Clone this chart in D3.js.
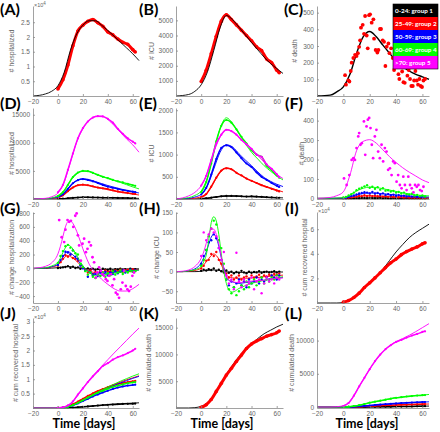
<!DOCTYPE html>
<html><head><meta charset="utf-8">
<script src="https://cdn.jsdelivr.net/npm/d3@7"></script>
<style>body{margin:0;background:#fff}svg{display:block}</style>
</head><body><svg id="c" width="440" height="432"></svg>
<script>
// ---------- time grids ----------
const tM = [-20,-10,-5,0,5,10,15,20,25,30,35,40,45,50,55,60,65];
const tD = [0,4,8,12,16,20,24,28,32,36,40,44,48,52,56,60,62];
const tF = [-20,-15,-10,-5,0,2,4,6,8,10,12,14,16,18,20,22,25,30,35,40,45,50,55,60,65];
const t2 = [0,2,4,6,8,10,12,14,16,18,20,22,24,26,28,30,32,34,36,38,40,42,44,46,48,50,52,54,56,58,60,62];
const xTicks = [-20,0,20,40,60];
const groupNames = ["0-24: group 1","25-49: group 2","50-59: group 3","60-69: group 4",">70: group 5"];
const panelLetters = ["(A)","(B)","(C)","(D)","(E)","(F)","(G)","(H)","(I)","(J)","(K)","(L)"];
const yLabels = ["# hospitalized","# ICU","# death","# hospitalized","# ICU","# death","# change hospitalization","# change ICU","# cum recovered hospital","# cum recovered hospital","# cumulated death","# cumulated death"];
const xLabel = "Time [days]";

// ---------- A ----------
const aModel = [0,700,1600,3500,8000,15500,21000,24000,25500,25500,24000,22200,20300,18300,16300,14300,12000];
const aData  = [2400,5500,10500,17000,22000,24000,25300,25900,24800,23600,21700,20700,19300,18200,17500,15700,14900];
const aTicks = [5000,10000,15000,20000,25000];
// ---------- B ----------
const bModel = [0,100,310,740,1600,3000,4500,5320,5040,4550,4050,3540,3050,2570,2150,1820,1490];
const bData  = [960,1700,2800,3950,4950,5370,5050,4700,4350,4000,3650,3250,3000,2450,2200,1710,1540];
const bTicks = [1000,2000,3000,4000,5000];
// ---------- C ----------
const cModel = [0,5,25,55,130,255,355,387,355,305,257,210,178,150,130,115,100];
const cDays = [1.3,2,3.8,4.6,5.6,6.3,7.6,8.9,10,11,12,12.7,13.4,14.7,15.7,16.5,17.7,18.5,19.5,20.3,21.5,22.8,23.3,24.5,25.8,26.6,27.8,28.6,29.9,30.9,31.9,32.9,34.2,35,36.2,37.5,38.5,39.5,40.5,41.8,42.5,43.5,44.6,45.6,46.6,47.6,48.6,49.6,50.6,51.6,52.7,53.7,54.7,55.7,56.7,57.7,58.7,59.7,60.8,62];
const cVals = [125,68,93,87,150,200,228,247,240,257,295,334,410,427,373,480,363,286,485,490,440,460,344,276,261,276,402,402,334,325,180,296,315,257,286,228,156,203,267,131,102,190,147,83,79,190,122,156,102,60,60,93,150,93,68,102,60,54,93,102];
const cTicks = [100,200,300,400,500];
// ---------- D ----------
const dM5 = [0,120,400,1070,2980,6550,10100,12500,14000,14700,14760,14160,13100,11900,10700,9640,8330];
const dD5 = [1190,2500,5200,8100,10800,12600,13800,14500,14750,14700,14280,13600,12500,11600,10800,10200,9900];
const dM4 = [0,50,200,600,1500,3270,4460,5000,4900,4460,4050,3690,3300,2950,2550,2150,1800];
const dD4 = [500,1200,2500,3900,4700,5000,4950,4650,4300,3950,3700,3400,3150,2950,2700,2450,2350];
const dM3 = [0,30,150,420,1070,2380,3270,3570,3450,3090,2750,2400,2100,1800,1550,1310,1070];
const dD3 = [350,850,1800,2800,3350,3550,3400,3150,2850,2500,2200,2000,1800,1600,1450,1300,1250];
const dM2 = [0,20,100,300,830,1790,2380,2560,2380,2080,1870,1670,1430,1190,1040,890,710];
const dD2 = [250,650,1400,2050,2450,2550,2450,2250,2050,1900,1750,1550,1350,1200,1050,950,900];
const dM1 = [0,2,10,30,80,170,250,290,290,270,250,230,200,180,150,130,110];
const dD1 = [30,60,130,200,260,290,290,280,260,240,230,220,200,180,160,140,130];
const dTicks = [5000,10000,15000];
// ---------- E ----------
const eM5 = [0,70,150,300,600,1050,1390,1560,1520,1390,1260,1130,980,830,690,560,460];
const eD5 = [300,520,880,1250,1450,1560,1530,1450,1330,1230,1130,1000,950,780,680,560,490];
const eM4 = [0,30,80,180,485,1050,1580,1830,1700,1470,1250,1050,900,750,630,520,430];
const eD4 = [150,380,800,1300,1650,1780,1720,1570,1400,1250,1100,1000,950,750,650,530,480];
const eM3 = [0,15,45,106,300,675,1050,1220,1170,1020,880,750,610,485,400,333,280];
const eD3 = [100,250,550,900,1150,1210,1170,1050,920,800,720,600,500,430,360,300,270];
const eM2 = [0,5,20,50,144,370,600,700,660,560,480,410,350,300,250,205,160];
const eD2 = [40,110,280,480,640,690,670,590,530,460,410,360,310,270,230,190,170];
const eM1 = [0,1,3,8,20,40,60,70,68,62,55,50,45,40,35,30,25];
const eD1 = [8,15,30,45,60,70,70,65,60,55,60,55,50,40,35,30,28];
const eTicks = [500,1000,1500,2000];
// ---------- F ----------
const fM5 = [0,5,14,34,120,245,293,302,284,250,215,185,158,135,115,95,81];
const fM4 = [0,1,2,4,17,38,52,58,56,50,43,36,29,23,18,15,13];
const fM3 = [0,0,1,2,8,18,25,28,27,24,21,18,15,12,10,8,7];
const fM2 = [0,0,0,1,4,9,12,13,12,11,10,8,7,6,5,4,3];
const fM1 = [0,0,0,0,0,1,1,2,2,2,1,1,1,1,1,1,1];
const fMagDays = [0.5,2.5,4.5,6.3,7.6,8.8,10,11.3,12,13,14,15.6,16.6,17.6,18.6,19.6,20.6,21.6,22.6,23.9,25.1,26.4,27.7,29,30.2,31.5,32.8,34,35.3,36.6,37.8,39.1,40.4,41.6,42.9,44.2,45.5,46.7,48,49.3,50.6,51.9,53.2,54.4,55.7,57,58.2,59.5,60.8];
const fMagVals = [103,69,120,198,207,198,259,319,336,276,284,396,224,370,405,414,362,276,207,319,353,241,207,276,190,259,241,147,155,120,190,181,86,120,69,52,112,69,43,112,69,52,31,69,60,69,43,38,60];
const fD4 = [5,8,15,22,30,42,50,55,62,68,55,60,50,58,45,52,40,42,35,38,30,33,25,30,22,20,24,15,18,12,15,10];
const fD3 = [2,4,8,12,15,20,25,28,32,30,26,33,25,28,20,26,18,22,16,19,14,17,12,14,10,12,9,10,7,8,6,7];
const fD2 = [1,2,4,6,8,10,14,12,16,13,15,12,14,11,12,9,11,8,10,7,8,6,7,5,6,4,5,3,4,3,3,2];
const fD1 = [0,0,1,0,1,2,1,3,2,1,3,2,1,2,3,1,2,1,0,2,1,1,0,1,2,0,1,0,1,0,1,0];
const fTicks = [0,100,200,300,400];
// ---------- G ----------
const gM5 = [0,10,30,80,210,320,460,600,675,685,650,580,490,390,283,190,63,-59,-156,-230,-293,-327,-327,-293,-230];
const gM4 = [0,2,10,35,88,150,230,300,340,322,280,220,155,95,39,-10,-59,-107,-100,-83,-70,-59,-45,-34,-24];
const gM3 = [0,1,6,25,63,110,170,220,244,225,195,160,115,70,29,-5,-49,-83,-78,-68,-58,-49,-38,-29,-24];
const gM2 = [0,1,5,20,49,85,130,170,185,171,150,120,85,50,24,0,-34,-59,-55,-49,-42,-34,-27,-20,-15];
const gM1 = [0,0,1,4,10,15,20,25,28,25,20,15,10,5,0,-3,-7,-12,-12,-11,-10,-9,-8,-7,-6];
const gMagDays = [1,3,5,6,7.7,9,10.4,12.3,13.9,15,16,17,18.4,19.7,21,22.4,23.7,25,26.4,27.7,29,30.4,31.7,33,34.4,35.7,37,38.4,39.7,41,42.4,43.7,45,46.4,47.7,49,50.4,51.7,53,54.4,55.7,57,58.4,59.7,61];
const gMagVals = [698,450,380,560,698,673,688,600,761,795,478,332,112,356,430,234,283,380,332,161,88,-132,-59,15,-34,-83,-107,-156,-181,-107,-83,-244,-156,-351,-376,-425,-303,-205,-34,-254,-303,-327,-264,-107,-59];
const gD4 = [80,180,250,320,340,300,260,220,200,60,20,-40,-90,-60,-120,-140,-80,-110,-60,-120,-70,-100,-40,-90,-60,-30,-80,-40,-60,-30,-50,-40];
const gD3 = [50,120,180,240,230,200,260,170,140,40,0,-30,-120,-60,-100,-80,-110,-60,-90,-50,-100,-60,-80,-40,-70,-50,-30,-60,-40,-20,-50,-30];
const gD2 = [40,90,140,190,170,200,150,140,110,50,10,-20,-60,-30,-80,-50,-70,-40,-60,-30,-50,-40,-60,-30,-40,-20,-50,-30,-20,-40,-10,-30];
const gD1 = [5,10,15,20,30,10,25,5,15,-5,10,-10,0,-15,-5,-20,-10,-25,-5,-15,-20,-5,-30,-10,-15,-5,-20,-10,-25,-5,-15,-10];
const gTicks = [-400,-200,0,200,400,600,800];
// ---------- H ----------
const hM5 = [0,1,4,13,34,50,72,95,108,108,95,70,38,9,-13,-22,-26,-28,-26,-24,-23,-22,-19,-17,-16];
const hM4 = [0,0,2,5,13,25,42,80,125,140,129,95,45,0,-30,-47,-52,-43,-36,-30,-26,-22,-19,-16,-13];
const hM3 = [0,0,2,7,22,35,50,70,88,95,86,65,35,9,-13,-22,-26,-30,-28,-26,-24,-22,-19,-17,-15];
const hM2 = [0,0,1,3,9,17,25,33,41,45,41,32,18,2,-9,-13,-16,-17,-17,-16,-15,-13,-12,-10,-9];
const hM1 = [0,0,0,0,1,2,3,3,4,4,4,3,2,1,-1,-1,-2,-2,-2,-2,-1,-1,-1,-1,-1];
const hD5 = [40,100,80,95,110,100,90,60,30,50,-10,-30,-20,-45,48,-25,-40,-20,-35,-30,-15,-45,-25,-20,-55,-30,-15,-25,-20,-30,-15,-20];
const hD4 = [15,30,55,90,110,130,120,80,60,20,-20,-45,-55,-40,-60,-50,-35,-45,-25,-40,-30,-20,-35,-25,-15,-30,-20,-25,-15,-20,-10,-15];
const hD3 = [20,40,55,75,80,95,85,60,30,5,-20,-35,-25,-40,-30,-20,-35,-25,-40,-20,-30,-25,-15,-30,-20,-25,-15,-20,-10,-15,-20,-10];
const hD2 = [8,15,28,30,45,40,50,30,20,5,-5,-15,-10,-20,-15,-10,-20,-15,-12,-18,-10,-15,-12,-8,-14,-10,-12,-8,-10,-6,-8,-5];
const hD1 = [2,5,3,6,4,8,2,5,1,-2,3,-3,0,-4,-1,-3,2,-2,-4,0,-3,-1,-2,1,-3,-1,0,-2,-1,1,-2,0];
const hTicks = [-50,0,50,100,150];
// ---------- I ----------
const iModel = [0,0,0,500,2500,6000,11500,16700,21800,27500,34500,41500,47500,53100,57300,60700,64100];
const iData  = [700,2000,4500,8000,12600,16400,20400,24600,28800,32700,35700,39300,41800,43900,45600,48100,49000];
const iTicks = [20000,40000,60000];
// ---------- J ----------
const jM5 = [0,0,0,50,300,1300,3800,7000,9700,12100,14500,16800,19100,21300,23500,25700,27800];
const jD5 = [50,250,900,2300,4700,6800,9000,11000,12800,14600,15600,16800,17700,18300,19100,20000,20600];
const jM4 = [0,0,0,30,200,700,1600,2700,3900,5100,6200,7300,8300,9300,10200,11100,11900];
const jD4 = [20,150,450,1000,1800,2700,3600,4500,5300,6000,6700,7300,7800,8200,8600,8900,9000];
const jM3 = [0,0,0,20,150,600,1400,2500,3600,4700,5800,6900,7800,8700,9500,10300,11000];
const jD3 = [20,120,400,900,1600,2400,3200,4000,4700,5400,6000,6600,7100,7500,7800,8000,8100];
const jM2 = [0,0,0,30,250,900,1900,3100,4300,5400,6400,7400,8200,9000,9800,10500,11200];
const jD2 = [30,200,600,1300,2200,3200,4200,5100,5900,6600,7200,7800,8300,8700,9000,9300,9400];
const jM1 = [0,0,0,5,40,100,230,400,600,800,1000,1200,1350,1500,1600,1700,1800];
const jD1 = [5,20,60,130,250,400,550,700,850,1000,1100,1200,1300,1400,1450,1500,1550];
const jTicks = [5000,10000,15000,20000,25000,30000];
// ---------- K ----------
const kModel = [0,0,60,320,950,2340,4240,6270,8040,9620,10900,11960,12980,13860,14500,15130,15640];
const kData  = [130,600,1600,3100,4600,6140,7400,8700,9900,11100,11960,12500,12950,13400,13700,14050,14370];
const kTicks = [5000,10000,15000];
// ---------- L ----------
const lM5 = [0,0,50,200,900,2400,4100,5700,7100,8300,9200,9850,10300,10800,11350,11950,12550];
const lD5 = [150,600,1700,3100,4400,5700,6900,7900,8700,9300,9800,10100,10450,10750,11000,11300,11400];
const lM4 = [0,0,0,10,60,200,400,650,850,1000,1200,1390,1520,1640,1720,1790,1890];
const lD4 = [10,50,150,280,450,650,800,950,1100,1250,1380,1480,1580,1650,1720,1780,1800];
const lM3 = [0,0,0,5,20,60,130,220,300,380,450,520,580,640,690,740,780];
const lD3 = [5,15,45,100,170,230,300,370,430,490,540,590,640,680,710,740,750];
const lM2 = [0,0,0,2,10,30,70,120,170,220,260,300,340,370,400,430,450];
const lD2 = [2,8,25,55,95,130,170,210,250,280,310,340,370,390,410,430,440];
const lM1 = [0,0,0,0,2,5,10,20,30,40,50,60,75,90,105,120,140];
const lD1 = [0,1,4,8,14,20,28,36,45,55,62,70,80,90,100,115,120];
const lTicks = [0,5000,10000];

// ---------- layout ----------
const COL = {k:"#000000", r:"#ff0000", b:"#0000ff", g:"#00ff00", m:"#ff00ff"};
const GC = ["k","r","b","g","m"];
const cols = [[33,139],[176,283],[317,429]];
const rows = [[6,96],[108,199],[212,303],[318,408]];
const FONT = "'Liberation Sans', Arial, sans-serif";
const BOLD = "Lato, 'Open Sans', sans-serif";

function grp(Ms, Ds, tm, td, kind) {
  const s = [];
  for (let i = 0; i < Ds.length; i++) {
    s.push({kind: kind, col: GC[i], t: td, v: Ds[i]});
    s.push({kind: "model", col: GC[i], t: tm, v: Ms[i]});
  }
  return s;
}

const panels = [
 {c:0,r:0,yd:[0,30500],yt:aTicks,exp:true,ylx:12,
  series:[{kind:"thick",col:"r",t:tD,v:aData},{kind:"model",col:"k",t:tM,v:aModel}]},
 {c:1,r:0,yd:[0,5950],yt:bTicks,ylx:152,
  series:[{kind:"thick",col:"r",t:tD,v:bData},{kind:"model",col:"k",t:tM,v:bModel}]},
 {c:2,r:0,yd:[0,540],yt:cTicks,ylx:295,
  series:[{kind:"model",col:"k",t:tM,v:cModel,w:1.4},{kind:"dots",col:"r",t:cDays,v:cVals,rad:1.9}]},
 {c:0,r:1,yd:[0,16200],yt:dTicks,ylx:12,
  series:grp([dM1,dM2,dM3,dM4,dM5],[dD1,dD2,dD3,dD4,dD5],tM,tD,"data")},
 {c:1,r:1,yd:[0,2050],yt:eTicks,ylx:152,
  series:grp([eM1,eM2,eM3,eM4,eM5],[eD1,eD2,eD3,eD4,eD5],tM,tD,"data")},
 {c:2,r:1,yd:[-3,465],yt:fTicks,ylx:302,
  series:[].concat(
    grp([fM1,fM2,fM3,fM4],[fD1,fD2,fD3,fD4],tM,t2,"dots"),
    [{kind:"dots",col:"m",t:fMagDays,v:fMagVals,rad:1.4},{kind:"model",col:"m",t:tM,v:fM5}])},
 {c:0,r:2,yd:[-500,815],yt:gTicks,ylx:12,
  series:[].concat(
    grp([gM1,gM2,gM3,gM4],[gD1,gD2,gD3,gD4],tF,t2,"dots"),
    [{kind:"dots",col:"m",t:gMagDays,v:gMagVals,rad:1.4},{kind:"model",col:"m",t:tF,v:gM5}])},
 {c:1,r:2,yd:[-80,152],yt:hTicks,ylx:157,
  series:grp([hM1,hM2,hM3,hM4,hM5],[hD1,hD2,hD3,hD4,hD5],tF,t2,"dots")},
 {c:2,r:2,yd:[0,74000],yt:iTicks,exp:true,ylx:305,
  series:[{kind:"model",col:"k",t:tM,v:iModel},{kind:"thick",col:"r",t:tD,v:iData}]},
 {c:0,r:3,yd:[0,31300],yt:jTicks,exp:true,ylx:16,
  series:grp([jM1,jM2,jM3,jM4,jM5],[jD1,jD2,jD3,jD4,jD5],tM,tD,"data")},
 {c:1,r:3,yd:[0,16800],yt:kTicks,ylx:149,
  series:[{kind:"model",col:"k",t:tM,v:kModel},{kind:"thick",col:"r",t:tD,v:kData}]},
 {c:2,r:3,yd:[-150,13400],yt:lTicks,ylx:292,
  series:grp([lM1,lM2,lM3,lM4,lM5],[lD1,lD2,lD3,lD4,lD5],tM,tD,"data")}
];

const letterPos = [[0,15],[139,15],[284,15],[0,109],[139,109],[285,109],[0,214],[139,214],[285,214],[0,319],[139,319],[285,319]];
const xLabelX = [84,222,367];

const svg = d3.select("#c");

panels.forEach((p, idx) => {
  const [x0,x1] = cols[p.c], [y0,y1] = rows[p.r];
  const x = d3.scaleLinear().domain([-20,65]).range([x0,x1]);
  const y = d3.scaleLinear().domain(p.yd).range([y1,y0]);
  const g = svg.append("g");
  const line = d3.line().x(d=>x(d[0])).y(d=>y(d[1])).curve(d3.curveMonotoneX);
  p.series.forEach(s => {
    const pts = s.t.map((t,i)=>[t, s.v[i]]);
    const col = COL[s.col];
    if (s.kind !== "dots") {
      const w = s.kind==="model" ? (s.w||0.9) : s.kind==="thick" ? 3 : 1.5;
      g.append("path").attr("d", line(pts)).attr("fill","none")
        .attr("stroke", col).attr("stroke-width", w).attr("stroke-linejoin","round");
    }
    if (s.kind !== "model") {
      const rad = s.rad || (s.kind==="thick" ? 1.8 : s.kind==="data" ? 1.1 : 1.2);
      g.selectAll(null).data(pts).join("circle")
        .attr("cx", d=>x(d[0])).attr("cy", d=>y(d[1])).attr("r", rad).attr("fill", col);
    }
  });
  // axes
  const fmt = p.exp ? (d => d3.format("~g")(d/1e4)) : (d => d3.format("d")(d));
  const ax = g.append("g").attr("transform", `translate(0,${y1})`)
    .call(d3.axisBottom(x).tickValues(xTicks).tickSizeInner(-2).tickSizeOuter(0).tickPadding(3));
  const ay = g.append("g").attr("transform", `translate(${x0},0)`)
    .call(d3.axisLeft(y).tickValues(p.yt).tickFormat(fmt).tickSizeInner(-2).tickSizeOuter(0).tickPadding(3));
  [ax, ay].forEach(a => {
    a.select(".domain").attr("stroke","#8a8a8a").attr("stroke-width",0.8);
    a.selectAll(".tick line").attr("stroke","#8a8a8a").attr("stroke-width",0.8);
    a.selectAll(".tick text").attr("fill","#666").style("font-family", FONT).style("font-size","6.5px");
  });
  // exponent
  if (p.exp) {
    const t = g.append("text").attr("x", x0+1).attr("y", y0+1).attr("fill","#666")
      .style("font-family", FONT).style("font-size","5.5px").text("\u00d710");
    t.append("tspan").attr("dy",-2.5).style("font-size","4.5px").text("4");
  }
  // y label
  g.append("text").attr("transform", `translate(${p.ylx},${(y0+y1)/2}) rotate(-90)`)
    .attr("text-anchor","middle").attr("dy","0.35em").attr("fill","#666")
    .style("font-family", FONT).style("font-size","7px").text(yLabels[idx]);
  // panel letter
  svg.append("text").attr("x", letterPos[idx][0]).attr("y", letterPos[idx][1])
    .style("font-family", BOLD).style("font-weight","bold").style("font-size","16px").text(panelLetters[idx]);
  if (p.r === 3) {
    svg.append("text").attr("x", xLabelX[p.c]).attr("y", 428).attr("text-anchor","middle")
      .style("font-family", BOLD).style("font-weight","bold").style("font-size","12.5px").text(xLabel);
  }
});

// legend in panel C
const lg = svg.append("g").attr("transform","translate(393,4)");
groupNames.forEach((n,i) => {
  lg.append("rect").attr("x",0).attr("y",i*13).attr("width",45).attr("height",13).attr("fill",COL[GC[i]]);
  lg.append("text").attr("x",2).attr("y",i*13+8.8).attr("fill","#fff")
    .style("font-family", BOLD).style("font-weight","bold").style("font-size","6.3px").text(n);
});
lg.append("rect").attr("x",0).attr("y",0).attr("width",45).attr("height",65).attr("fill","none").attr("stroke","#000").attr("stroke-width",0.6);
</script></body></html>
